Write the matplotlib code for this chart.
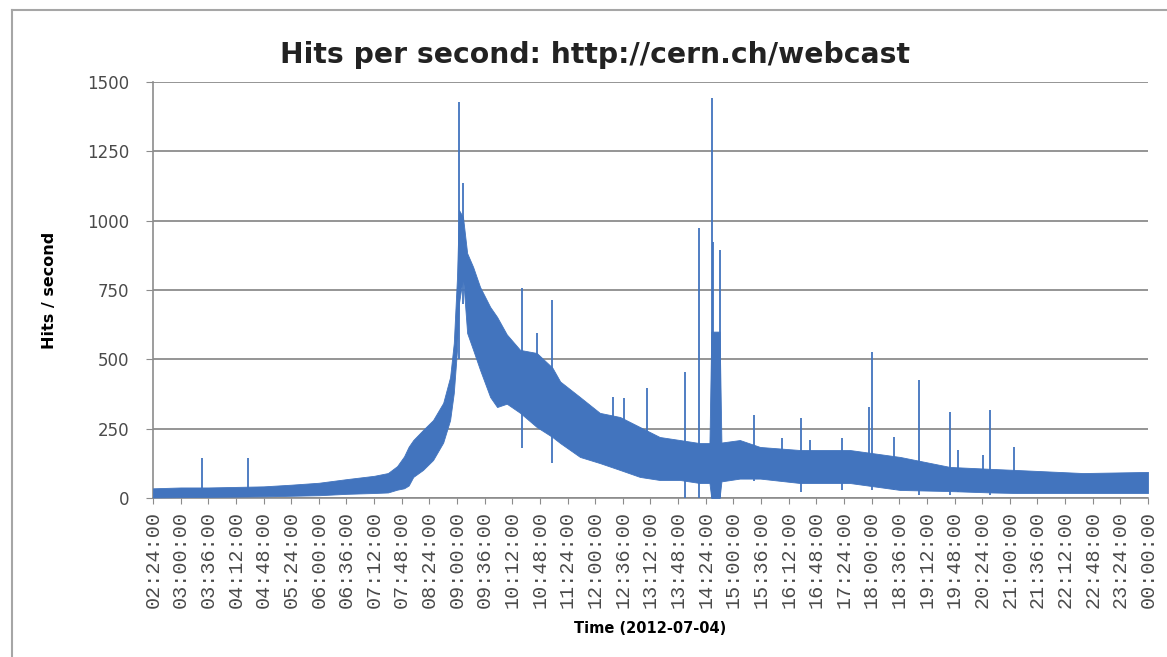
import matplotlib
matplotlib.use("Agg")
import matplotlib.pyplot as plt
from matplotlib.lines import Line2D

# time in hours since midnight (2012-07-04), values in hits/second
tick_labels = ["02:24:00", "03:00:00", "03:36:00", "04:12:00", "04:48:00", "05:24:00",
               "06:00:00", "06:36:00", "07:12:00", "07:48:00", "08:24:00", "09:00:00",
               "09:36:00", "10:12:00", "10:48:00", "11:24:00", "12:00:00", "12:36:00",
               "13:12:00", "13:48:00", "14:24:00", "15:00:00", "15:36:00", "16:12:00",
               "16:48:00", "17:24:00", "18:00:00", "18:36:00", "19:12:00", "19:48:00",
               "20:24:00", "21:00:00", "21:36:00", "22:12:00", "22:48:00", "23:24:00",
               "00:00:00"]
tick_hours = [2.4 + 0.6 * i for i in range(len(tick_labels))]

# envelope of the noisy series
band_hours = [2.40, 3.00, 3.60, 4.20, 4.80, 5.40, 6.00, 6.60, 7.20, 7.50, 7.70, 7.85,
              7.95, 8.05, 8.26, 8.48, 8.70, 8.85, 8.93, 9.00, 9.04, 9.13, 9.22, 9.35,
              9.50, 9.72, 9.87, 10.08, 10.37, 10.73, 11.07, 11.24, 11.67, 12.10, 12.54,
              12.97, 13.40, 13.84, 14.27, 14.48, 14.52, 14.70, 14.74, 15.14, 15.58,
              16.45, 17.53, 18.62, 19.70, 20.60, 21.15, 22.59, 24.00]
band_low = [2, 3, 4, 5, 6, 8, 10, 15, 18, 20, 30, 35,
            45, 76, 101, 137, 200, 281, 379, 534, 700, 797, 595, 534,
            462, 364, 328, 340, 307, 256, 220, 198, 148, 126, 101,
            76, 65, 65, 54, 54, 0, 0, 60, 70, 70,
            54, 54, 29, 25, 20, 18, 18, 18]
band_high = [35, 38, 38, 40, 42, 48, 55, 68, 80, 90, 115, 150,
             185, 209, 245, 281, 343, 436, 559, 797, 1039, 1013, 883, 833,
             761, 689, 653, 590, 534, 523, 470, 420, 364, 307, 292,
             256, 220, 209, 198, 198, 600, 600, 200, 209, 184,
             173, 173, 148, 112, 105, 101, 90, 94]

# isolated spikes
spike_hours = [3.46, 4.46, 9.04, 9.13, 10.41, 10.73, 11.07, 12.39, 12.63, 13.12, 13.95,
               14.25, 14.53, 14.56, 14.71, 15.45, 16.05, 16.46, 16.66, 17.36, 17.95,
               18.00, 18.48, 19.03, 19.70, 19.87, 20.42, 20.57, 21.09]
spike_low = [20, 20, 500, 700, 180, 300, 126, 150, 150, 100, 0,
             0, 0, 0, 0, 60, 60, 20, 60, 30, 100,
             30, 30, 10, 10, 20, 20, 10, 20]
spike_high = [145, 145, 1428, 1136, 757, 595, 714, 364, 360, 397, 455,
              973, 1442, 923, 894, 300, 216, 288, 209, 216, 328,
              527, 220, 426, 310, 173, 155, 317, 184]

blue = "#4274BE"
grid_c = "#8C8C8C"
text_c = "#4A4A4A"

fig = plt.figure(figsize=(11.67, 6.57), dpi=100)
ax = fig.add_axes([0.1311, 0.242, 0.8526, 0.6332])

ax.fill_between(band_hours, band_low, band_high, color=blue, lw=0.6, zorder=3)
ax.vlines(spike_hours, spike_low, spike_high, color=blue, lw=1.3, zorder=3)

ax.set_xlim(2.4, 24.0)
ax.set_ylim(0, 1500)
ax.set_yticks([0, 250, 500, 750, 1000, 1250, 1500])
ax.set_xticks(tick_hours)
ax.set_xticklabels(tick_labels, rotation=90, family="Liberation Mono")

ax.grid(axis="y", color=grid_c, lw=1.3, zorder=0)
for s in ["top", "right"]:
    ax.spines[s].set_visible(False)
for s in ["left", "bottom"]:
    ax.spines[s].set_color(grid_c)
    ax.spines[s].set_linewidth(1.2)
ax.tick_params(axis="y", length=5, color=grid_c, pad=12, labelsize=12, labelcolor=text_c)
ax.tick_params(axis="x", length=4, color=grid_c, pad=5, labelsize=14.5, labelcolor=text_c)

ax.set_ylabel("Hits / second", fontsize=11.5, fontweight="bold", labelpad=22)
ax.set_xlabel("Time (2012-07-04)", fontsize=10.5, fontweight="bold", labelpad=10)

fig.text(0.51, 0.916, "Hits per second: http://cern.ch/webcast", ha="center", va="center",
         fontsize=20.3, fontweight="bold", color="#222222")

# chart area border
fig.add_artist(Line2D([12 / 1167, 1.0], [1 - 10 / 657, 1 - 10 / 657], color="#A6A6A6", lw=1.5))
fig.add_artist(Line2D([12 / 1167, 12 / 1167], [0, 1 - 10 / 657], color="#A6A6A6", lw=1.5))

fig.savefig("out.png", dpi=100)
